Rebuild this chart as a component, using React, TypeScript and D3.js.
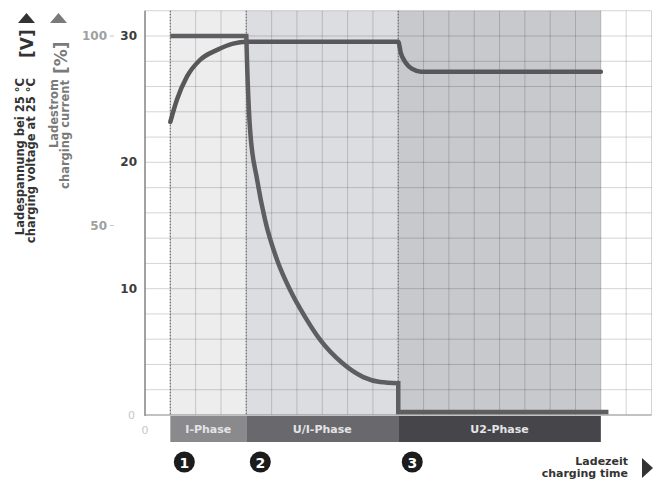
import React from "react";
import * as d3 from "d3";

// ---- data ----
const timeGrid = d3.range(0, 21); // grid columns (time units)
const voltGrid = d3.range(0, 33, 2); // grid rows (V)
const phaseBoundaries = [1, 4, 10];
const phaseLabels = ["I-Phase", "U/I-Phase", "U2-Phase"];
const phaseStart = [1, 4, 10];
const phaseEnd = [4, 10, 18];
const phaseNumbers = ["1", "2", "3"];
const voltTicks = [30, 20, 10];
const pctTicks = [100, 50];

// voltage curve (time, V)
const voltT = [1, 1.26, 1.66, 2.17, 2.85, 3.48, 4, 10, 10.1, 10.3, 10.55, 10.9, 18];
const voltV = [23.2, 24.95, 26.8, 28.1, 28.9, 29.4, 29.55, 29.55, 28.66, 27.87, 27.4, 27.18, 27.18];

// current (time, %)
const curFlatT = [1, 4];
const curFlatP = [100, 100];
const curDecayT = [4, 4.03, 4.15, 4.43, 4.74, 5.26, 5.73, 6.32, 6.92, 7.79, 8.62, 9.29, 10];
const curDecayP = [100, 93, 75.2, 62, 51.5, 40.1, 33, 25.9, 19.8, 13.7, 10, 8.7, 8.4];
const curTailT = [10, 10, 18.3];
const curTailP = [8.4, 0.8, 0.8];

const FONT = "DejaVu Sans, sans-serif";

export default function App() {
  const x = d3.scaleLinear().domain([0, 20]).range([145, 651.5]);
  const yV = d3.scaleLinear().domain([0, 30]).range([415, 36]);
  const yP = d3.scaleLinear().domain([0, 100]).range([415, 36]);
  const top = yV(32);
  const bottom = yV(0);

  const bgFills = ["#ededee", "#dcdde0", "#c8c9cc"];
  const bandFills = ["#8a8a8d", "#69696d", "#46464a"];

  const voltPts: [number, number][] = voltT.map((t, i) => [x(t), yV(voltV[i])]);
  const voltPath = d3.line().curve(d3.curveMonotoneX)(voltPts) || "";

  const lin = d3.line();
  const mono = d3.line().curve(d3.curveMonotoneX);
  const a = lin(curFlatT.map((t, i) => [x(t), yP(curFlatP[i])] as [number, number])) || "";
  const b = mono(curDecayT.map((t, i) => [x(t), yP(curDecayP[i])] as [number, number])) || "";
  const c = lin(curTailT.map((t, i) => [x(t), yP(curTailP[i])] as [number, number])) || "";
  const curPath = a + b.replace(/^M/, "L") + c.replace(/^M/, "L");

  return (
    <svg
      width={653}
      height={479}
      style={{ position: "absolute", left: 0, top: 0, background: "#fff" }}
      fontFamily={FONT}
    >
      {/* shaded phase backgrounds */}
      {phaseStart.map((s, i) => (
        <rect key={"bg" + i} x={x(s)} y={top} width={x(phaseEnd[i]) - x(s)} height={bottom - top} fill={bgFills[i]} />
      ))}
      {/* grid */}
      {timeGrid.map((t) => (
        <line key={"gx" + t} x1={x(t)} x2={x(t)} y1={top} y2={bottom} stroke="rgba(0,0,0,0.17)" strokeWidth={1} />
      ))}
      {voltGrid.map((v) => (
        <line key={"gy" + v} x1={x(0)} x2={x(20)} y1={yV(v)} y2={yV(v)} stroke="rgba(0,0,0,0.17)" strokeWidth={1} />
      ))}
      {/* dotted phase boundaries */}
      {phaseBoundaries.map((t) => (
        <line key={"pb" + t} x1={x(t)} x2={x(t)} y1={top} y2={bottom} stroke="#6e6e70" strokeWidth={1.2} strokeDasharray="1.5,1.5" />
      ))}
      {/* axes */}
      <line x1={x(0)} x2={x(0)} y1={top} y2={bottom + 1} stroke="#8a8a8a" strokeWidth={1.5} />
      <line x1={x(0)} x2={x(20)} y1={bottom} y2={bottom} stroke="#9a9a9a" strokeWidth={1} />

      {/* curves */}
      <path d={voltPath} fill="none" stroke="#58585b" strokeWidth={4.5} strokeLinecap="round" strokeLinejoin="round" />
      <path d={curPath} fill="none" stroke="#5e5e61" strokeWidth={4.5} strokeLinecap="butt" strokeLinejoin="miter" />

      {/* phase bands */}
      {phaseStart.map((s, i) => (
        <g key={"band" + i}>
          <rect x={x(s)} y={416} width={x(phaseEnd[i]) - x(s)} height={26} fill={bandFills[i]} />
          <text x={(x(s) + x(phaseEnd[i])) / 2} y={429} textAnchor="middle" dominantBaseline="central" fontSize={11} fontWeight="bold" fill="#e4e4e6">
            {phaseLabels[i]}
          </text>
        </g>
      ))}
      {/* numbered circles */}
      {phaseStart.map((s, i) => (
        <g key={"num" + i}>
          <circle cx={x(s) + 14} cy={462} r={10.5} fill="#1c1c1c" />
          <text x={x(s) + 14} y={462.5} textAnchor="middle" dominantBaseline="central" fontSize={14} fontWeight="bold" fill="#fff">
            {phaseNumbers[i]}
          </text>
        </g>
      ))}

      {/* y tick labels */}
      {voltTicks.map((v) => (
        <text key={"vt" + v} x={137} y={yV(v)} textAnchor="end" dominantBaseline="central" fontSize={12} fontWeight="bold" fill="#3c3c3c">
          {v}
        </text>
      ))}
      {pctTicks.map((p) => (
        <g key={"pt" + p}>
          <text x={107} y={yP(p)} textAnchor="end" dominantBaseline="central" fontSize={12} fontWeight="bold" fill="#a0a0a0">
            {p}
          </text>
          <line x1={110} x2={114} y1={yP(p)} y2={yP(p)} stroke="#c4c4c4" strokeWidth={1} />
        </g>
      ))}
      <text x={135} y={bottom} textAnchor="end" dominantBaseline="central" fontSize={11} fill="#c8c8c8">0</text>
      <text x={x(0)} y={430} textAnchor="middle" dominantBaseline="central" fontSize={11} fill="#c8c8c8">0</text>

      {/* y axis titles */}
      <polygon points="18,23 35,23 26.5,13" fill="#333" />
      <text transform="translate(24,78) rotate(-90)" textAnchor="end" fontSize={11.5} fontWeight="bold" fill="#333">Ladespannung bei 25 °C</text>
      <text transform="translate(35,78) rotate(-90)" textAnchor="end" fontSize={11.5} fontWeight="bold" fill="#333">charging voltage at 25 °C</text>
      <text transform="translate(33,58) rotate(-90)" textAnchor="start" fontSize={17} fontWeight="bold" fill="#333">[V]</text>

      <polygon points="50,23 67,23 58.5,13" fill="#7a7a7a" />
      <text transform="translate(58,79) rotate(-90)" textAnchor="end" fontSize={11.5} fontWeight="bold" fill="#7a7a7a">Ladestrom</text>
      <text transform="translate(69,80) rotate(-90)" textAnchor="end" fontSize={11.5} fontWeight="bold" fill="#7a7a7a">charging current</text>
      <text transform="translate(67,74) rotate(-90)" textAnchor="start" fontSize={17} fontWeight="bold" fill="#7a7a7a">[%]</text>

      {/* x axis title */}
      <text x={628} y={461} textAnchor="end" dominantBaseline="central" fontSize={11} fontWeight="bold" fill="#333">Ladezeit</text>
      <text x={628} y={473} textAnchor="end" dominantBaseline="central" fontSize={11} fontWeight="bold" fill="#333">charging time</text>
      <polygon points="642,458 642,478 653,468" fill="#333" />
    </svg>
  );
}
